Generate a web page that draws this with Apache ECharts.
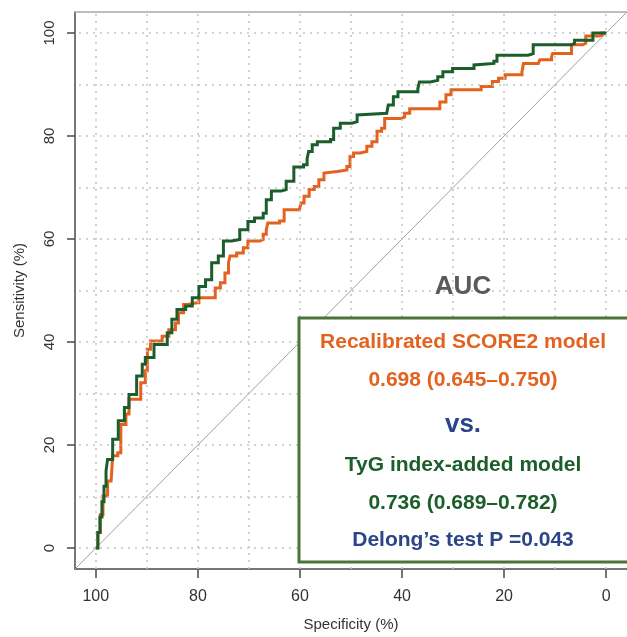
<!DOCTYPE html>
<html>
<head>
<meta charset="utf-8">
<script src="https://cdn.jsdelivr.net/npm/echarts@6/dist/echarts.min.js"></script>
<style>
html,body{margin:0;padding:0;background:#fff;}
#chart{width:627px;height:637px;}
</style>
</head>
<body>
<div id="chart"></div>
<script>
// ---- data (specificity %, sensitivity %) ----
const tickLabels = [0, 20, 40, 60, 80, 100];
const gridValues = [0, 10, 20, 30, 40, 50, 60, 70, 80, 90, 100];
const axisRange = [-4.08, 104.08];
const chanceLine = [[110, -10], [-10, 110]];

const score2Curve = [
  [100,0],[99.6,3.0],[99.1,6.5],[98.6,10.1],[97.7,13.0],[97.0,13.0],[96.7,17.9],[95.7,18.5],[95.1,24.0],[94.1,26.0],
  [93.5,28.9],[91.9,28.9],[91.2,32.1],[90.3,34.4],[89.9,38.6],[89.3,40.2],[87.7,40.2],[87.0,41.1],
  [85.7,42.4],[84.4,43.7],[83.8,45.7],[82.8,47.3],[82.0,47.6],[80.2,47.6],[79.8,48.6],[77.6,48.6],
  [76.6,50.5],[75.6,51.5],[74.7,53.4],[74.0,55.4],[73.7,56.7],[72.4,57.3],[71.1,58.3],[70.2,59.6],
  [67.9,59.9],[67.2,60.9],[66.6,61.8],[66.3,63.1],[64.0,63.5],[63.1,65.7],[60.1,66.0],[59.8,67.0],
  [59.2,68.3],[58.2,69.6],[57.2,70.2],[56.3,71.5],[55.3,72.8],[55.0,73.1],[52.7,73.4],[50.8,74.1],
  [50.2,76.0],[49.5,76.7],[48.2,77.0],[46.9,78.0],[45.9,78.9],[44.9,80.9],[44.0,81.5],[43.4,83.4],
  [40.1,83.7],[39.5,84.4],[38.5,85.3],[33.3,85.3],[32.6,86.6],[31.4,88.0],[30.4,89.0],[24.9,89.0],
  [24.5,89.6],[22.7,89.6],[22.3,90.6],[21.1,91.2],[19.8,91.9],[16.5,92.5],[16.2,94.1],[13.3,94.1],
  [13.0,94.8],[10.7,95.4],[10.5,96.0],[7.5,96.0],[6.8,97.7],[4.6,98.0],[4.0,99.4],[1.4,99.6],
  [0.8,100],[0,100]
];

const tygCurve = [
  [100,0],[99.6,3.0],[99.2,6.0],[98.8,9.0],[98.4,12.0],[98.0,15.0],[97.7,17.2],[96.7,21.1],[95.6,24.7],[94.4,27.3],[93.5,29.8],[92.0,33.4],
  [90.9,35.7],[90.3,37.0],[88.6,39.5],[86.0,41.8],[85.1,44.4],[84.1,46.3],[82.4,47.0],[81.1,48.6],
  [79.8,50.8],[78.5,52.1],[77.3,55.4],[76.0,56.7],[75.0,59.6],[73.4,59.9],[71.8,61.8],[70.2,63.4],
  [68.9,64.1],[67.2,65.0],[66.6,67.6],[65.6,69.3],[63.7,69.6],[62.7,71.2],[61.2,74.0],[59.3,74.4],
  [58.6,75.6],[58.3,77.0],[57.6,78.3],[56.6,78.9],[54.0,79.3],[53.4,81.5],[52.1,82.5],[49.8,82.8],
  [48.8,84.1],[48.5,84.4],[43.0,84.4],[42.7,86.0],[41.7,87.6],[40.8,88.6],[36.9,89.2],[36.6,90.5],
  [34.5,90.8],[33.0,91.5],[32.0,92.5],[30.1,93.1],[25.9,93.8],[25.6,94.1],[22.0,94.5],[21.4,95.7],
  [15.3,96.0],[14.3,97.7],[6.8,98.0],[6.2,98.6],[3.6,98.6],[2.6,100],[0,100]
];

const boxLines = [
  {text: 'Recalibrated SCORE2 model', color: '#e3621f', size: 21},
  {text: '0.698 (0.645\u20130.750)', color: '#e3621f', size: 21},
  {text: 'vs.', color: '#2b4588', size: 26},
  {text: 'TyG index-added model', color: '#1b5e2b', size: 21},
  {text: '0.736 (0.689\u20130.782)', color: '#1b5e2b', size: 21},
  {text: 'Delong\u2019s test P =0.043', color: '#2b4588', size: 21}
];

// ---- chart ----
const FONT = '"Liberation Sans", Arial, sans-serif';
const chart = echarts.init(document.getElementById('chart'), null, {renderer: 'canvas'});

const gridLineStyle = {color: '#c4c4c4', width: 1.5, type: [2, 5]};
const gridMarks = [];
gridValues.forEach(v => { gridMarks.push({xAxis: v}); gridMarks.push({yAxis: v}); });

const lineYs = [342, 380, 425, 465, 503, 540];
const graphics = [
  {type: 'rect', z: 100, shape: {x: 299, y: 318, width: 340, height: 244},
   style: {fill: '#fff', stroke: '#4a7535', lineWidth: 3}},
  {type: 'text', z: 101, x: 463, y: 287,
   style: {text: 'AUC', fill: '#5a5a5a', font: 'bold 26px ' + FONT, align: 'center', verticalAlign: 'middle'}}
];
boxLines.forEach((l, i) => {
  graphics.push({type: 'text', z: 101, x: 463, y: lineYs[i],
    style: {text: l.text, fill: l.color, font: 'bold ' + l.size + 'px ' + FONT, align: 'center', verticalAlign: 'middle'}});
});

const option = {
  animation: false,
  backgroundColor: '#fff',
  textStyle: {fontFamily: FONT},
  grid: {left: 75, top: 12, right: -6, bottom: 67, containLabel: false},
  xAxis: [{
    type: 'value', inverse: true, min: axisRange[0], max: axisRange[1],
    name: 'Specificity (%)', nameLocation: 'middle', nameGap: 48,
    nameTextStyle: {fontSize: 15, color: '#333', fontFamily: FONT},
    axisLine: {show: true, onZero: false, lineStyle: {color: '#4a4a4a', width: 1.5}},
    axisTick: {show: true, length: 9, customValues: tickLabels, lineStyle: {color: '#4a4a4a', width: 1.5}},
    axisLabel: {show: true, customValues: tickLabels, margin: 20, fontSize: 16, color: '#333', fontFamily: FONT},
    splitLine: {show: false}
  }, {
    type: 'value', inverse: true, min: axisRange[0], max: axisRange[1], position: 'top',
    axisLine: {show: true, onZero: false, lineStyle: {color: '#a8a8a8', width: 1.5}},
    axisTick: {show: false}, axisLabel: {show: false}, splitLine: {show: false}
  }],
  yAxis: {
    type: 'value', min: axisRange[0], max: axisRange[1],
    name: 'Sensitivity (%)', nameLocation: 'middle', nameGap: 48,
    nameTextStyle: {fontSize: 15, color: '#333', fontFamily: FONT},
    axisLine: {show: true, onZero: false, lineStyle: {color: '#4a4a4a', width: 1.5}},
    axisTick: {show: true, length: 8, customValues: tickLabels, lineStyle: {color: '#4a4a4a', width: 1.5}},
    axisLabel: {show: true, customValues: tickLabels, rotate: 90, margin: 18, fontSize: 15, color: '#333', fontFamily: FONT},
    splitLine: {show: false}
  },
  series: [
    {
      type: 'line', name: 'grid', data: [], silent: true,
      markLine: {silent: true, symbol: ['none', 'none'], label: {show: false},
        lineStyle: gridLineStyle, emphasis: {disabled: true}, data: gridMarks}
    },
    {
      type: 'line', name: 'chance', data: chanceLine, clip: true, symbol: 'none', silent: true,
      lineStyle: {color: '#a0a0a0', width: 1}, z: 3
    },
    {
      type: 'line', name: 'Recalibrated SCORE2 model', data: score2Curve, symbol: 'none', step: 'end',
      lineStyle: {color: '#e3621f', width: 3, join: 'miter'}, z: 4
    },
    {
      type: 'line', name: 'TyG index-added model', data: tygCurve, symbol: 'none', step: 'end',
      lineStyle: {color: '#1b5e2b', width: 3, join: 'miter'}, z: 5
    }
  ],
  graphic: graphics
};
chart.setOption(option);
</script>
</body>
</html>
